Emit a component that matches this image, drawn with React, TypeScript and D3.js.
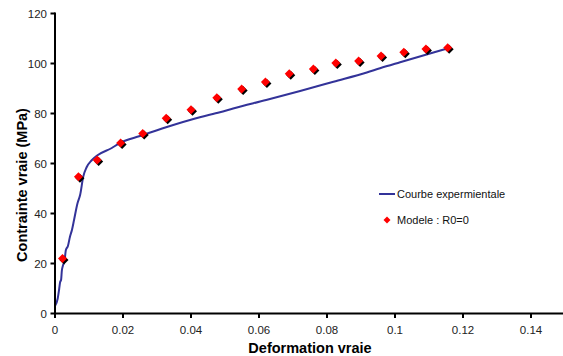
import React from "react";
import * as d3 from "d3";

const xTicks = [0, 0.02, 0.04, 0.06, 0.08, 0.1, 0.12, 0.14];
const yTicks = [0, 20, 40, 60, 80, 100, 120];

const expStrain = [0, 0.0008, 0.0012, 0.0015, 0.0018, 0.002, 0.0023, 0.0028, 0.0032, 0.0038, 0.0044, 0.005, 0.0056, 0.0066, 0.0074, 0.0083, 0.0093, 0.0108, 0.0125, 0.0167, 0.0191, 0.025, 0.0329, 0.0426, 0.0485, 0.0524, 0.0621, 0.0721, 0.0819, 0.0917, 0.0956, 0.1015, 0.1113, 0.1157];
const expStress = [3, 6, 9.5, 12.5, 13.5, 17, 19, 21, 25.4, 27, 30.7, 33.5, 37.4, 44, 47.5, 54.7, 58.5, 61.3, 63.3, 66.2, 68.2, 71, 74.6, 78.5, 80.5, 82, 85.4, 89, 92.7, 96.4, 98.1, 100.5, 104.4, 106.1];

const modelStrain = [0.0022, 0.0069, 0.0124, 0.0193, 0.0258, 0.0327, 0.04, 0.0476, 0.0549, 0.0619, 0.0689, 0.076, 0.0826, 0.0893, 0.0959, 0.1026, 0.1091, 0.1155];
const modelStress = [22, 54.7, 61.4, 68.2, 72, 78.1, 81.5, 86.3, 89.8, 92.6, 95.9, 97.8, 100.2, 101, 103, 104.5, 105.8, 106.3];

const legendLabels = ["Courbe expermientale", "Modele : R0=0"];

const W = 563;
const H = 356;

export default function App() {
  const x = d3.scaleLinear().domain([0, 0.15]).range([55, 565]);
  const y = d3.scaleLinear().domain([0, 120]).range([313.5, 13.5]);
  const line = d3
    .line<number>()
    .x((_, i) => x(expStrain[i]))
    .y((d) => y(d))
    .curve(d3.curveMonotoneX);
  const diamond = (cx: number, cy: number, r: number) =>
    `M${cx},${cy - r}L${cx + r},${cy}L${cx},${cy + r}L${cx - r},${cy}Z`;
  const font = "'Liberation Sans', Arial, sans-serif";

  return (
    <div style={{ position: "fixed", left: 0, top: 0 }}>
      <svg width={W} height={H} style={{ display: "block", background: "#fff" }} fontFamily={font}>
        {/* data line */}
        <path d={line(expStress) || ""} fill="none" stroke="#333399" strokeWidth={2} strokeLinejoin="round" />
        {/* markers */}
        {modelStrain.map((s, i) => (
          <g key={i}>
            <path d={diamond(x(s) + 1.5, y(modelStress[i]) + 1.5, 4.5)} fill="#000" />
            <path d={diamond(x(s), y(modelStress[i]), 4.5)} fill="#FF0000" />
          </g>
        ))}
        {/* axes */}
        <line x1={55} x2={563} y1={y(0)} y2={y(0)} stroke="#000" strokeWidth={2} />
        <line x1={55} x2={55} y1={y(0) + 1} y2={y(120) - 1} stroke="#000" strokeWidth={2} />
        {xTicks.map((t) => (
          <g key={"x" + t}>
            <line x1={x(t)} x2={x(t)} y1={y(0)} y2={y(0) + 4.5} stroke="#000" strokeWidth={2} />
            <text x={x(t)} y={333.5} textAnchor="middle" fontSize={11.5} fill="#222">
              {t}
            </text>
          </g>
        ))}
        {yTicks.map((t) => (
          <g key={"y" + t}>
            <line x1={50.5} x2={55} y1={y(t)} y2={y(t)} stroke="#000" strokeWidth={2} />
            <text x={47} y={y(t) + 4} textAnchor="end" fontSize={11.5} fill="#222">
              {t}
            </text>
          </g>
        ))}
        {/* axis titles */}
        <text x={310} y={353} textAnchor="middle" fontSize={14.5} fontWeight="bold" fill="#000">
          Deformation vraie
        </text>
        <text
          transform={`translate(26.5,185) rotate(-90)`}
          textAnchor="middle"
          fontSize={14.5}
          fontWeight="bold"
          fill="#000"
        >
          Contrainte vraie (MPa)
        </text>
        {/* legend */}
        <line x1={379} x2={395} y1={194} y2={194} stroke="#333399" strokeWidth={2} />
        <text x={397} y={198} fontSize={11} fill="#111">
          {legendLabels[0]}
        </text>
        <path d={diamond(387, 220, 3.5)} fill="#FF0000" />
        <text x={397} y={224} fontSize={11} fill="#111">
          {legendLabels[1]}
        </text>
      </svg>
    </div>
  );
}
